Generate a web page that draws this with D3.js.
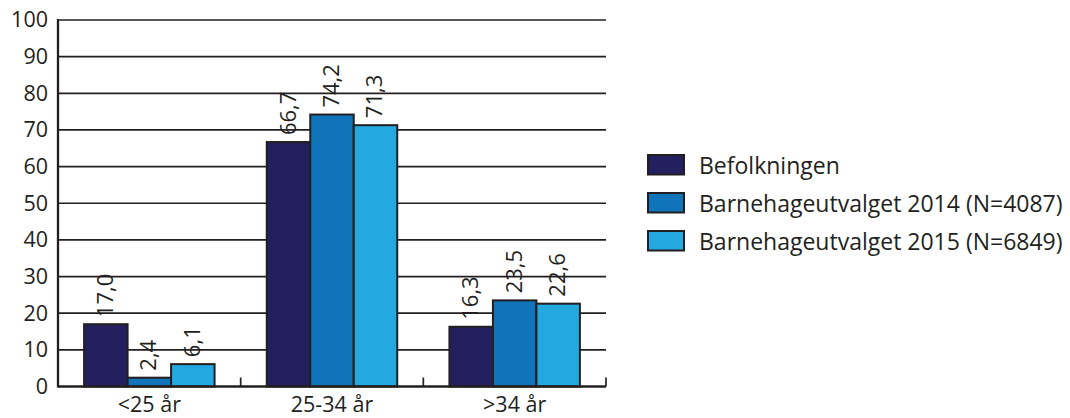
<!DOCTYPE html>
<html>
<head>
<meta charset="utf-8">
<script src="https://cdn.jsdelivr.net/npm/d3@7"></script>
<style>
  html, body { margin: 0; padding: 0; background: #fff; }
  svg text { font-family: "Open Sans", "Noto Sans", sans-serif; fill: #231f20; }
</style>
</head>
<body>
<svg id="chart" width="1070" height="418"></svg>
<script>
// Age groups of mothers, share in percent
const categories = ["<25 år", "25-34 år", ">34 år"];
const seriesNames = ["Befolkningen", "Barnehageutvalget 2014 (N=4087)", "Barnehageutvalget 2015 (N=6849)"];
const befolkningen = [17.0, 66.7, 16.3];
const utvalg2014 = [2.4, 74.2, 23.5];
const utvalg2015 = [6.1, 71.3, 22.6];
const yTicks = [0, 10, 20, 30, 40, 50, 60, 70, 80, 90, 100];
const colors = ["#24205f", "#0f74ba", "#23a8e0"];

(function draw() {
  const series = [befolkningen, utvalg2014, utvalg2015];
  const svg = d3.select("#chart");
  const ink = "#231f20";

  const plotLeft = 58, plotRight = 606, plotTop = 20, plotBottom = 386.5;

  const y = d3.scaleLinear().domain([0, 100]).range([plotBottom, plotTop]);
  const x0 = d3.scaleBand().domain(categories).range([plotLeft, plotRight]).paddingInner(0).paddingOuter(0);
  const x1 = d3.scaleBand().domain(d3.range(series.length)).range([0, x0.bandwidth()]).paddingInner(0).paddingOuter(0.6);

  // horizontal grid lines
  svg.append("g")
    .selectAll("line")
    .data(yTicks.filter(t => t > 0))
    .join("line")
    .attr("x1", plotLeft).attr("x2", plotRight)
    .attr("y1", d => y(d)).attr("y2", d => y(d))
    .attr("stroke", ink).attr("stroke-width", 1.7);

  // y axis labels
  const yAxis = d3.axisLeft(y).tickValues(yTicks).tickSize(0).tickPadding(10).tickFormat(d3.format("d"));
  const gy = svg.append("g").attr("transform", `translate(${plotLeft},0)`).call(yAxis);
  gy.select(".domain").remove();
  gy.selectAll("text").attr("font-size", 21.5).style("font-family", "'Open Sans', sans-serif").attr("fill", ink);

  // bars
  const rows = categories.map((c, i) => ({ cat: c, values: series.map((s, j) => ({ j, v: s[i] })) }));
  const groups = svg.append("g").selectAll("g")
    .data(rows).join("g")
    .attr("transform", d => `translate(${x0(d.cat)},0)`);

  groups.selectAll("rect")
    .data(d => d.values)
    .join("rect")
    .attr("x", d => x1(d.j))
    .attr("width", x1.bandwidth())
    .attr("y", d => y(d.v))
    .attr("height", d => y(0) - y(d.v))
    .attr("fill", d => colors[d.j])
    .attr("stroke", ink).attr("stroke-width", 2);

  // value labels, rotated to read upwards
  const fmt = v => d3.format(".1f")(v).replace(".", ",");
  groups.selectAll("text.val")
    .data(d => d.values)
    .join("text")
    .attr("class", "val")
    .attr("transform", d => `translate(${x1(d.j) + x1.bandwidth() / 2 + 7},${y(d.v) - 7}) rotate(-90)`)
    .attr("font-size", 22)
    .text(d => fmt(d.v));

  // x axis with inward ticks at category boundaries
  const boundaries = categories.map(c => x0(c) + x0.bandwidth());
  svg.append("g").selectAll("line")
    .data(boundaries)
    .join("line")
    .attr("x1", d => d).attr("x2", d => d)
    .attr("y1", plotBottom).attr("y2", plotBottom - 9)
    .attr("stroke", ink).attr("stroke-width", 1.7);
  svg.append("line").attr("x1", plotLeft).attr("x2", plotRight).attr("y1", plotBottom).attr("y2", plotBottom)
    .attr("stroke", ink).attr("stroke-width", 2.3);
  svg.append("line").attr("x1", plotLeft).attr("x2", plotLeft).attr("y1", plotTop - 1).attr("y2", plotBottom + 1)
    .attr("stroke", ink).attr("stroke-width", 2.3);

  // category labels
  svg.append("g").selectAll("text")
    .data(categories)
    .join("text")
    .attr("x", d => x0(d) + x0.bandwidth() / 2)
    .attr("y", 412)
    .attr("text-anchor", "middle")
    .attr("font-size", 21.5)
    .text(d => d);

  // legend
  const legend = svg.append("g").attr("transform", "translate(648,155)");
  const item = legend.selectAll("g")
    .data(seriesNames)
    .join("g")
    .attr("transform", (d, i) => `translate(0,${i * 38})`);
  item.append("rect")
    .attr("width", 36).attr("height", 19.5)
    .attr("fill", (d, i) => colors[i])
    .attr("stroke", ink).attr("stroke-width", 2);
  item.append("text")
    .attr("x", 51).attr("y", 18.5)
    .attr("font-size", 23)
    .text(d => d);
})();
</script>
</body>
</html>
